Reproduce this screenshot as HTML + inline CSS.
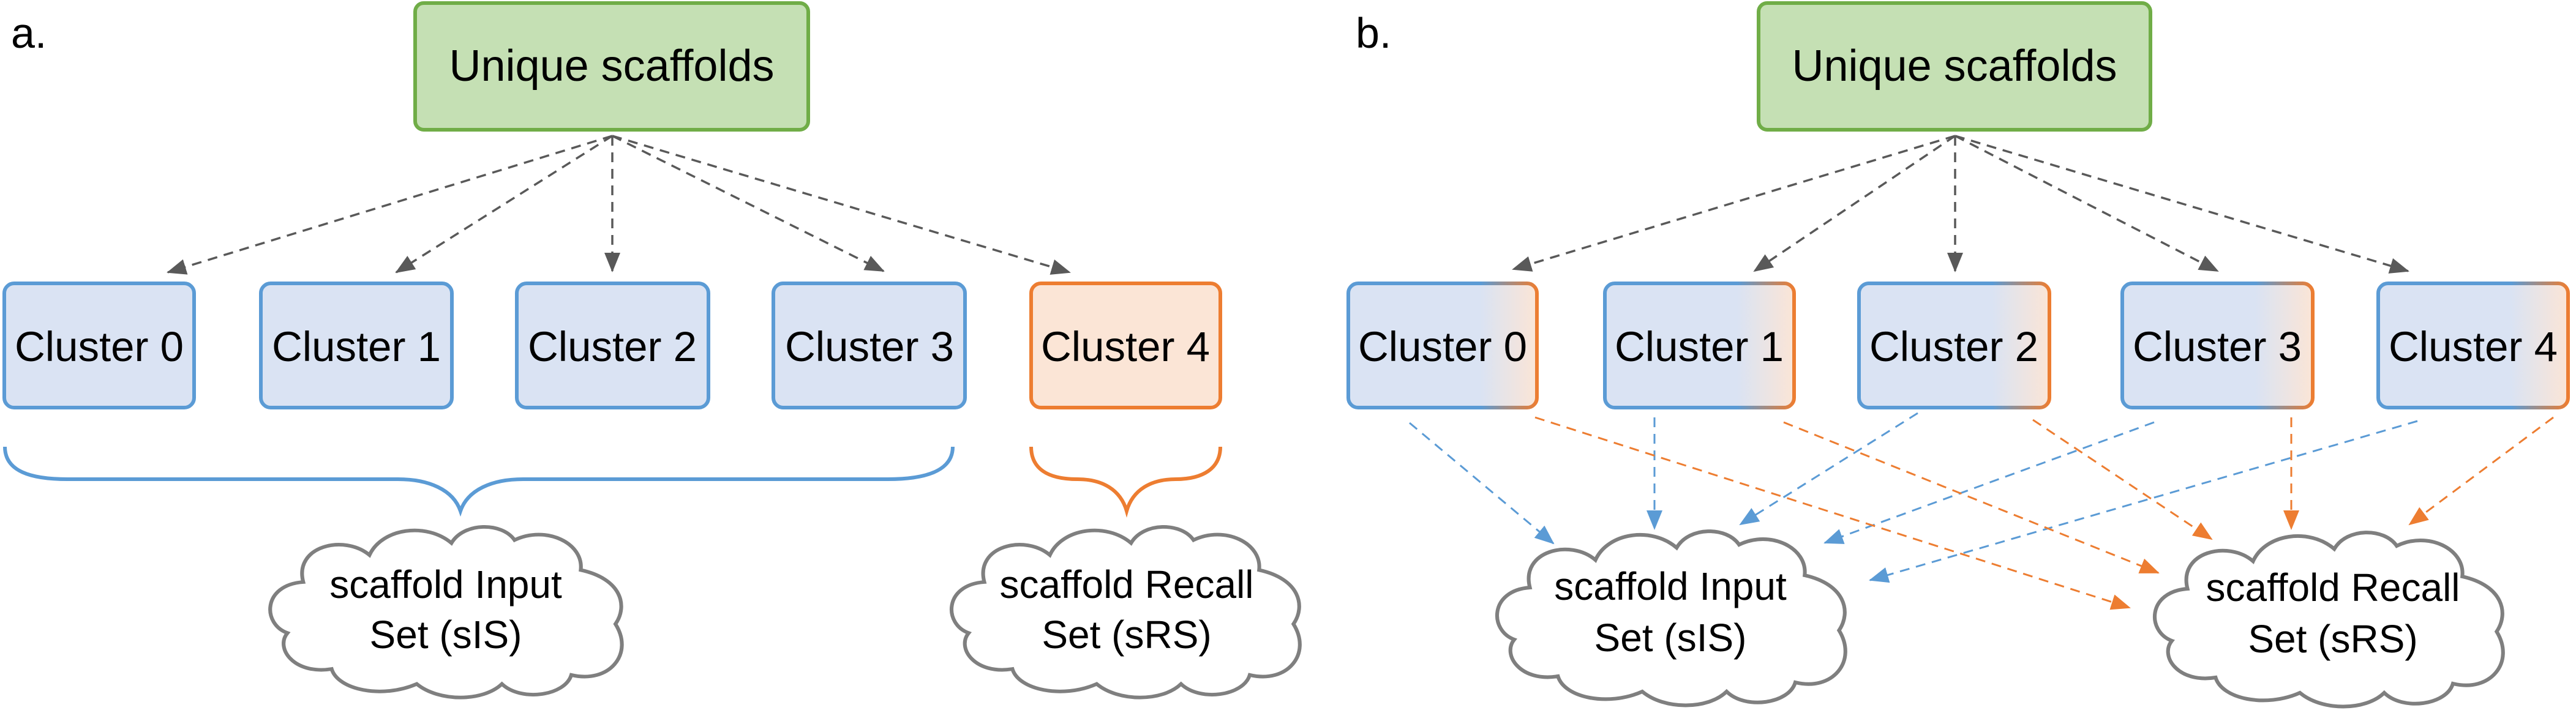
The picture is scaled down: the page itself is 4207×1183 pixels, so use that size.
<!DOCTYPE html>
<html><head><meta charset="utf-8"><style>
html,body{margin:0;padding:0;background:#fff;}
svg{display:block;}
text{font-family:"Liberation Sans",sans-serif;fill:#000;}
</style></head><body>
<svg width="4207" height="1183" viewBox="0 0 4207 1183" xmlns="http://www.w3.org/2000/svg">
<defs>
<marker id="mg" markerUnits="userSpaceOnUse" markerWidth="34" markerHeight="28" refX="30" refY="13" orient="auto"><path d="M0,0 L32,13 L0,26 Z" fill="#595959"/></marker>
<marker id="mb" markerUnits="userSpaceOnUse" markerWidth="34" markerHeight="28" refX="30" refY="13" orient="auto"><path d="M0,0 L32,13 L0,26 Z" fill="#5b9bd5"/></marker>
<marker id="mo" markerUnits="userSpaceOnUse" markerWidth="34" markerHeight="28" refX="30" refY="13" orient="auto"><path d="M0,0 L32,13 L0,26 Z" fill="#ed7d31"/></marker>
<linearGradient id="gf" x1="0" x2="1" y1="0" y2="0"><stop offset="0.7" stop-color="#dae3f3"/><stop offset="1" stop-color="#fbe5d6"/></linearGradient>
<linearGradient id="gs" x1="0" x2="1" y1="0" y2="0"><stop offset="0.7" stop-color="#5b9bd5"/><stop offset="1" stop-color="#ed7d31"/></linearGradient>
<path id="cloud" d="M 75,100 C 60,40 140,20 180,55 C 200,10 270,0 310,35 C 330,0 390,0 410,30 C 460,5 520,35 515,80 C 580,95 590,140 570,170 C 600,220 560,270 500,255 C 490,290 420,300 390,270 C 360,300 290,300 255,270 C 200,295 130,280 120,245 C 60,255 30,210 50,185 C 10,170 10,105 75,100 Z"/>
</defs>

<!-- Panel a -->
<text x="18" y="78" font-size="70">a.</text>
<rect x="678" y="5" width="642" height="207" rx="14" fill="#c5e0b4" stroke="#70ad47" stroke-width="6"/>
<text x="999" y="132" font-size="72" text-anchor="middle">Unique scaffolds</text>

<g stroke="#595959" stroke-width="3.5" stroke-dasharray="16,11" fill="none">
<line x1="1000" y1="222" x2="274" y2="445" marker-end="url(#mg)"/>
<line x1="1000" y1="222" x2="647" y2="445" marker-end="url(#mg)"/>
<line x1="1000" y1="222" x2="1000" y2="443" marker-end="url(#mg)"/>
<line x1="1000" y1="222" x2="1443" y2="443" marker-end="url(#mg)"/>
<line x1="1000" y1="222" x2="1747" y2="445" marker-end="url(#mg)"/>
</g>

<g stroke-width="6">
<rect x="7" y="463" width="310" height="203" rx="16" fill="#dae3f3" stroke="#5b9bd5"/>
<rect x="426" y="463" width="312" height="203" rx="16" fill="#dae3f3" stroke="#5b9bd5"/>
<rect x="844" y="463" width="313" height="203" rx="16" fill="#dae3f3" stroke="#5b9bd5"/>
<rect x="1263" y="463" width="313" height="203" rx="16" fill="#dae3f3" stroke="#5b9bd5"/>
<rect x="1684" y="463" width="309" height="203" rx="16" fill="#fbe5d6" stroke="#ed7d31"/>
</g>
<g font-size="69" text-anchor="middle">
<text x="162" y="590">Cluster 0</text>
<text x="582" y="590">Cluster 1</text>
<text x="1000" y="590">Cluster 2</text>
<text x="1420" y="590">Cluster 3</text>
<text x="1838" y="590">Cluster 4</text>
</g>

<path d="M8,730 C8,770 50,783 110,783 L650,783 C700,783 740,800 752,835 C764,800 804,783 854,783 L1450,783 C1510,783 1556,770 1556,730" fill="none" stroke="#5b9bd5" stroke-width="6"/>
<path d="M1684,730 C1684,765 1710,783 1760,783 C1800,783 1830,800 1840,835 C1850,800 1880,783 1920,783 C1965,783 1993,765 1993,730" fill="none" stroke="#ed7d31" stroke-width="6"/>

<use href="#cloud" transform="translate(418,853) scale(1.03,0.98)" fill="#fff" stroke="#7f7f7f" stroke-width="6" vector-effect="non-scaling-stroke"/>
<text x="728" y="977" font-size="64" text-anchor="middle">scaffold Input</text>
<text x="728" y="1059" font-size="64" text-anchor="middle">Set (sIS)</text>
<use href="#cloud" transform="translate(1531,853) scale(1.02,0.98)" fill="#fff" stroke="#7f7f7f" stroke-width="6" vector-effect="non-scaling-stroke"/>
<text x="1840" y="977" font-size="64" text-anchor="middle">scaffold Recall</text>
<text x="1840" y="1059" font-size="64" text-anchor="middle">Set (sRS)</text>

<!-- Panel b -->
<text x="2214" y="78" font-size="70">b.</text>
<rect x="2872" y="5" width="640" height="207" rx="14" fill="#c5e0b4" stroke="#70ad47" stroke-width="6"/>
<text x="3192" y="132" font-size="72" text-anchor="middle">Unique scaffolds</text>

<g stroke="#595959" stroke-width="3.5" stroke-dasharray="16,11" fill="none">
<line x1="3193" y1="222" x2="2471" y2="440" marker-end="url(#mg)"/>
<line x1="3193" y1="222" x2="2865" y2="443" marker-end="url(#mg)"/>
<line x1="3193" y1="222" x2="3193" y2="443" marker-end="url(#mg)"/>
<line x1="3193" y1="222" x2="3622" y2="443" marker-end="url(#mg)"/>
<line x1="3193" y1="222" x2="3933" y2="443" marker-end="url(#mg)"/>
</g>

<g stroke-width="6" fill="url(#gf)" stroke="url(#gs)">
<rect x="2202" y="463" width="308" height="203" rx="16"/>
<rect x="2621" y="463" width="309" height="203" rx="16"/>
<rect x="3036" y="463" width="311" height="203" rx="16"/>
<rect x="3466" y="463" width="311" height="203" rx="16"/>
<rect x="3884" y="463" width="310" height="203" rx="16"/>
</g>
<g font-size="69" text-anchor="middle">
<text x="2356" y="590">Cluster 0</text>
<text x="2775" y="590">Cluster 1</text>
<text x="3191" y="590">Cluster 2</text>
<text x="3621" y="590">Cluster 3</text>
<text x="4039" y="590">Cluster 4</text>
</g>

<g stroke-width="3" stroke-dasharray="16,11" fill="none">
<line x1="2302" y1="691" x2="2537" y2="888" stroke="#5b9bd5" marker-end="url(#mb)"/>
<line x1="2702" y1="682" x2="2702" y2="864" stroke="#5b9bd5" marker-end="url(#mb)"/>
<line x1="3132" y1="675" x2="2842" y2="857" stroke="#5b9bd5" marker-end="url(#mb)"/>
<line x1="3518" y1="690" x2="2980" y2="887" stroke="#5b9bd5" marker-end="url(#mb)"/>
<line x1="3948" y1="688" x2="3054" y2="948" stroke="#5b9bd5" marker-end="url(#mb)"/>
<line x1="2507" y1="682" x2="3478" y2="993" stroke="#ed7d31" marker-end="url(#mo)"/>
<line x1="2913" y1="690" x2="3525" y2="936" stroke="#ed7d31" marker-end="url(#mo)"/>
<line x1="3320" y1="686" x2="3612" y2="881" stroke="#ed7d31" marker-end="url(#mo)"/>
<line x1="3742" y1="682" x2="3742" y2="864" stroke="#ed7d31" marker-end="url(#mo)"/>
<line x1="4170" y1="682" x2="3935" y2="857" stroke="#ed7d31" marker-end="url(#mo)"/>
</g>

<use href="#cloud" transform="translate(2422,860) scale(1.02,1.0)" fill="#fff" stroke="#7f7f7f" stroke-width="6" vector-effect="non-scaling-stroke"/>
<text x="2728" y="980" font-size="64" text-anchor="middle">scaffold Input</text>
<text x="2728" y="1064" font-size="64" text-anchor="middle">Set (sIS)</text>
<use href="#cloud" transform="translate(3496,862) scale(1.02,1.0)" fill="#fff" stroke="#7f7f7f" stroke-width="6" vector-effect="non-scaling-stroke"/>
<text x="3810" y="982" font-size="64" text-anchor="middle">scaffold Recall</text>
<text x="3810" y="1066" font-size="64" text-anchor="middle">Set (sRS)</text>
</svg>
</body></html>
